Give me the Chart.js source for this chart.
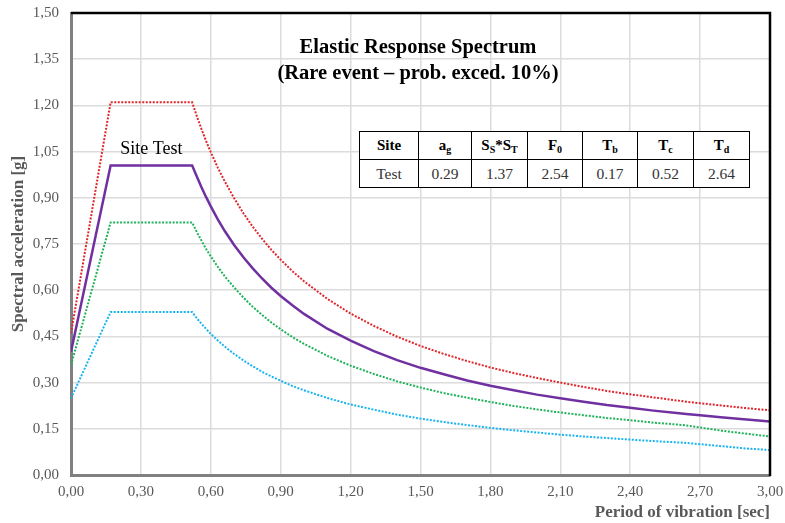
<!DOCTYPE html>
<html>
<head>
<meta charset="utf-8">
<script src="https://cdn.jsdelivr.net/npm/chart.js@4"></script>
<style>
  html, body { margin: 0; padding: 0; background: #fff; }
  #wrap { position: relative; width: 785px; height: 523px; }
  #chart { position: absolute; left: 0; top: 0; }
  .title {
    position: absolute; left: 218px; width: 400px; text-align: center;
    font: bold 20.5px "Liberation Serif", "Times New Roman", serif; color: #000;
    line-height: 26px; top: 33px;
  }
  table.params {
    position: absolute; left: 359px; top: 131px;
    border-collapse: collapse; background: #fff;
    font-family: "Liberation Serif", "Times New Roman", serif;
  }
  table.params td, table.params th {
    border: 1.5px solid #000; height: 27px; padding: 0; text-align: center;
  }
  table.params th { font-size: 15px; font-weight: bold; color: #000; }
  table.params td { font-size: 15.5px; color: #333; }
  table.params sub { font-size: 10px; vertical-align: -3px; }
</style>
</head>
<body>
<div id="wrap">
  <canvas id="chart" width="785" height="523"></canvas>
  <div class="title">Elastic Response Spectrum<br>(Rare event – prob. exced. 10%)</div>
  <table class="params">
    <tr>
      <th style="width:58px">Site</th>
      <th style="width:52px">a<sub>g</sub></th>
      <th style="width:55px">S<sub>S</sub>*S<sub>T</sub></th>
      <th style="width:54px">F<sub>0</sub></th>
      <th style="width:54px">T<sub>b</sub></th>
      <th style="width:55px">T<sub>c</sub></th>
      <th style="width:55px">T<sub>d</sub></th>
    </tr>
    <tr id="paramRow"></tr>
  </table>
</div>
<script>
// ------------------------------
// Spectrum data
// ------------------------------

const periods = [0, 0.17, 0.52, 0.54, 0.56, 0.58, 0.60, 0.63, 0.66, 0.70, 0.74, 0.78,
  0.82, 0.86, 0.90, 0.95, 1.00, 1.10, 1.20, 1.30, 1.40, 1.50, 1.60, 1.70, 1.80, 1.90, 2.00,
  2.10, 2.20, 2.30, 2.40, 2.50, 2.60, 2.64, 2.70, 2.80, 2.90, 3.00];

// Site spectrum (solid purple)
const siteSpectrum = [0.40, 1.005, 1.005, 0.969, 0.934, 0.902, 0.872, 0.830, 0.792, 0.747, 0.707, 0.671,
  0.638, 0.608, 0.581, 0.551, 0.523, 0.475, 0.436, 0.402, 0.373, 0.348, 0.327, 0.307, 0.290, 0.275, 0.261,
  0.249, 0.238, 0.227, 0.218, 0.209, 0.201, 0.198, 0.194, 0.187, 0.180, 0.174];

// Upper envelope (red dotted)
const upperSpectrum = [0.46, 1.21, 1.21, 1.165, 1.123, 1.084, 1.048, 0.998, 0.953, 0.899, 0.850, 0.806,
  0.767, 0.731, 0.699, 0.662, 0.629, 0.572, 0.524, 0.484, 0.449, 0.419, 0.393, 0.370, 0.349, 0.331, 0.315,
  0.300, 0.286, 0.273, 0.262, 0.252, 0.242, 0.238, 0.233, 0.225, 0.217, 0.210];

// Middle curve (green dotted)
const midSpectrum = [0.357, 0.82, 0.82, 0.789, 0.761, 0.734, 0.710, 0.676, 0.645, 0.609, 0.576, 0.546,
  0.520, 0.495, 0.473, 0.448, 0.426, 0.387, 0.355, 0.328, 0.304, 0.284, 0.266, 0.251, 0.237, 0.224, 0.213,
  0.203, 0.194, 0.185, 0.178, 0.170, 0.164, 0.161, 0.154, 0.143, 0.134, 0.125];

// Lower curve (cyan dotted)
const lowSpectrum = [0.249, 0.529, 0.529, 0.509, 0.491, 0.474, 0.458, 0.437, 0.417, 0.393, 0.372, 0.353,
  0.335, 0.320, 0.306, 0.289, 0.275, 0.250, 0.229, 0.212, 0.196, 0.183, 0.172, 0.162, 0.153, 0.145, 0.138,
  0.131, 0.125, 0.120, 0.115, 0.110, 0.106, 0.104, 0.100, 0.093, 0.086, 0.081];

const siteName = "Test";
const siteParams = ["0.29", "1.37", "2.54", "0.17", "0.52", "2.64"];

// Parameter table row
const row = document.getElementById("paramRow");
[siteName, ...siteParams].forEach(v => {
    const td = document.createElement("td");
    td.textContent = v;
    row.appendChild(td);
});

const toPoints = values => values.map((v, i) => ({ x: periods[i], y: v }));
const comma = v => Number(v).toFixed(2).replace(".", ",");

const serif = "'Liberation Serif', 'Times New Roman', serif";

// -----------------------------
// Frame + site label
// -----------------------------

const framePlugin = {
    id: "frame",
    afterDatasetsDraw(chart) {
        const { ctx, chartArea: a, scales } = chart;
        ctx.save();
        ctx.strokeStyle = "#000";
        ctx.lineWidth = 2.5;
        ctx.beginPath();
        ctx.moveTo(a.left, a.top);
        ctx.lineTo(a.right, a.top);
        ctx.lineTo(a.right, a.bottom + 1);
        ctx.stroke();

        // label above the site plateau
        const x = scales.x.getPixelForValue((periods[1] + periods[2]) / 2);
        const y = scales.y.getPixelForValue(siteSpectrum[1]) - 16;
        ctx.fillStyle = "#000";
        ctx.font = "18px " + serif;
        ctx.textAlign = "center";
        ctx.textBaseline = "middle";
        ctx.fillText("Site " + siteName, x, y);
        ctx.restore();
    }
};

const dotted = color => ({
    borderColor: color,
    borderWidth: 2,
    borderDash: [2, 1.5],
    pointRadius: 0,
    tension: 0,
    fill: false
});

new Chart(document.getElementById("chart"), {
    type: "line",
    data: {
        datasets: [
            { label: "Site", data: toPoints(siteSpectrum), borderColor: "#7030a0", borderWidth: 2.5, pointRadius: 0, tension: 0 },
            { label: "Upper", data: toPoints(upperSpectrum), ...dotted("#e0262c") },
            { label: "Mid", data: toPoints(midSpectrum), ...dotted("#1fb25a") },
            { label: "Low", data: toPoints(lowSpectrum), ...dotted("#1ab4f0") }
        ]
    },
    options: {
        responsive: false,
        animation: false,
        layout: { padding: { left: 0, right: 15, top: 13, bottom: 0 } },
        plugins: { legend: { display: false }, tooltip: { enabled: false } },
        scales: {
            x: {
                type: "linear",
                min: 0,
                max: 3,
                afterFit: s => { s.height = 48; s.paddingLeft = 0; s.paddingRight = 0; },
                ticks: {
                    stepSize: 0.3,
                    padding: 8,
                    color: "#595959",
                    font: { family: serif, size: 15 },
                    callback: v => comma(v)
                },
                grid: { color: "#dcdcdc", lineWidth: 1.5, drawTicks: false },
                border: { color: "#808080", width: 3 },
                title: {
                    display: true,
                    text: "Period of vibration [sec]",
                    align: "end",
                    color: "#595959",
                    font: { family: serif, size: 17, weight: "bold" },
                    padding: { top: 0, bottom: 0 }
                }
            },
            y: {
                min: 0,
                max: 1.5,
                afterFit: s => { s.width = 71; s.paddingTop = 0; s.paddingBottom = 0; },
                ticks: {
                    stepSize: 0.15,
                    padding: 12,
                    color: "#595959",
                    font: { family: serif, size: 15 },
                    callback: v => comma(v)
                },
                grid: { color: "#dcdcdc", lineWidth: 1.5, drawTicks: false },
                border: { color: "#808080", width: 3 },
                title: {
                    display: true,
                    text: "Spectral acceleration [g]",
                    color: "#595959",
                    font: { family: serif, size: 17, weight: "bold" },
                    padding: { top: 8, bottom: 4 }
                }
            }
        }
    },
    plugins: [framePlugin]
});
</script>
</body>
</html>
